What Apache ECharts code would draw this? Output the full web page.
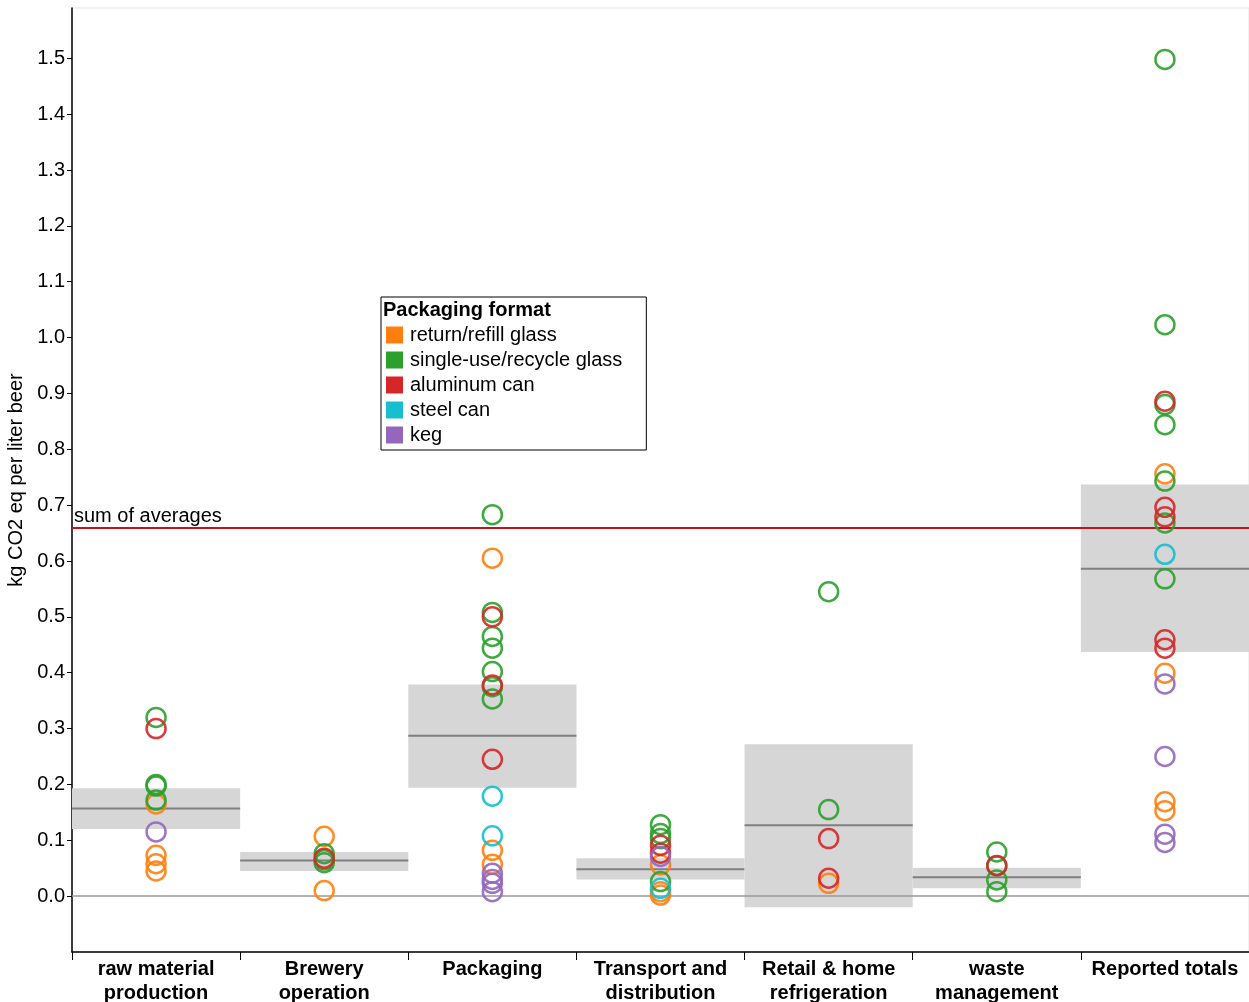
<!DOCTYPE html>
<html>
<head>
<meta charset="utf-8">
<script src="https://cdn.jsdelivr.net/npm/echarts@6/dist/echarts.min.js"></script>
<style>
html,body{margin:0;padding:0;background:#fff;}
#chart{width:1249px;height:1002px;}
</style>
</head>
<body>
<div id="chart"></div>
<script>
// Categories (x axis)
const categories = ['raw material\nproduction', 'Brewery\noperation', 'Packaging', 'Transport and\ndistribution', 'Retail & home\nrefrigeration', 'waste\nmanagement', 'Reported totals'];

// Y tick labels
const yTicks = [0, 0.1, 0.2, 0.3, 0.4, 0.5, 0.6, 0.7, 0.8, 0.9, 1.0, 1.1, 1.2, 1.3, 1.4, 1.5];

// Points: [category index, kg CO2 eq per liter]
const returnRefillGlass = [
  [0, 0.165], [0, 0.073], [0, 0.058], [0, 0.045],
  [1, 0.107], [1, 0.010],
  [2, 0.605], [2, 0.082], [2, 0.057],
  [3, 0.056], [3, 0.008], [3, 0.002],
  [4, 0.023],
  [6, 0.756], [6, 0.399], [6, 0.169], [6, 0.153]
];
const singleUseGlass = [
  [0, 0.320], [0, 0.200], [0, 0.197], [0, 0.172],
  [1, 0.076], [1, 0.065], [1, 0.060],
  [2, 0.683], [2, 0.508], [2, 0.465], [2, 0.444], [2, 0.402], [2, 0.375], [2, 0.353],
  [3, 0.128], [3, 0.112], [3, 0.103], [3, 0.026],
  [4, 0.545], [4, 0.155],
  [5, 0.079], [5, 0.054], [5, 0.029], [5, 0.008],
  [6, 1.498], [6, 1.023], [6, 0.880], [6, 0.844], [6, 0.743], [6, 0.668], [6, 0.568]
];
const aluminumCan = [
  [0, 0.300],
  [1, 0.068],
  [2, 0.500], [2, 0.378], [2, 0.245],
  [3, 0.091], [3, 0.077],
  [4, 0.103], [4, 0.032],
  [5, 0.055],
  [6, 0.886], [6, 0.696], [6, 0.679], [6, 0.459], [6, 0.444]
];
const steelCan = [
  [2, 0.179], [2, 0.108],
  [3, 0.014],
  [6, 0.612]
];
const keg = [
  [0, 0.115],
  [2, 0.041], [2, 0.030], [2, 0.023], [2, 0.008],
  [3, 0.071],
  [6, 0.380], [6, 0.250], [6, 0.111], [6, 0.096]
];

// Per-category average and shaded range
const rangeLow  = [0.120, 0.045, 0.194, 0.030, -0.020, 0.014, 0.437];
const rangeHigh = [0.193, 0.079, 0.379, 0.068, 0.272, 0.051, 0.737];
const averages  = [0.157, 0.064, 0.287, 0.048, 0.127, 0.034, 0.586];
const sumOfAverages = 0.658;

const formatNames = ['return/refill glass', 'single-use/recycle glass', 'aluminum can', 'steel can', 'keg'];
const formatColors = ['#ff7f0e', '#2ca02c', '#d62728', '#17becf', '#9467bd'];
const formatData = [returnRefillGlass, singleUseGlass, aluminumCan, steelCan, keg];

const FONT = '"Liberation Sans", Arial, Helvetica, sans-serif';

const boxData = categories.map((c, i) => [i, rangeLow[i], rangeHigh[i], averages[i]]);

const scatterSeries = formatNames.map((name, i) => ({
  name: name,
  type: 'scatter',
  z: 5,
  symbol: 'circle',
  symbolSize: 19,
  data: formatData[i],
  itemStyle: { color: 'rgba(0,0,0,0)', borderColor: formatColors[i], borderWidth: 2.5, opacity: 0.9 },
  emphasis: { disabled: true }
}));

const chart = echarts.init(document.getElementById('chart'), null, { renderer: 'canvas' });
chart.setOption({
  animation: false,
  backgroundColor: '#fff',
  textStyle: { fontFamily: FONT },
  title: {
    text: 'Packaging format',
    left: 383, top: 300, padding: 0,
    textStyle: { fontFamily: FONT, fontSize: 20, fontWeight: 'bold', color: '#000' }
  },
  legend: {
    orient: 'vertical',
    left: 381, top: 297,
    padding: [28, 24, 5, 5],
    itemGap: 5,
    itemWidth: 17, itemHeight: 17,
    borderColor: '#000', borderWidth: 1,
    selectedMode: false,
    icon: 'rect',
    textStyle: { fontFamily: FONT, fontSize: 20, color: '#000', padding: [0, 0, 0, 2] },
    data: formatNames.map((n, i) => ({ name: n, itemStyle: { color: formatColors[i], borderWidth: 0, opacity: 1 } }))
  },
  grid: { left: 72, right: 0, top: 8, bottom: 50, outerBoundsMode: 'none', containLabel: false, show: true, borderColor: '#e4e4e4', borderWidth: 1 },
  xAxis: {
    type: 'category',
    data: categories,
    boundaryGap: true,
    axisLine: { onZero: false, lineStyle: { color: '#000', width: 1.5 } },
    axisTick: { show: true, length: 8, lineStyle: { color: '#000', width: 1 } },
    axisLabel: { fontFamily: FONT, fontSize: 20, fontWeight: 'bold', color: '#000', lineHeight: 24, margin: 5, interval: 0 },
    splitLine: { show: false }
  },
  yAxis: {
    type: 'value',
    min: -0.1, max: 1.59, interval: 0.1,
    name: 'kg CO2 eq per liter beer',
    nameLocation: 'middle', nameGap: 43, nameRotate: 90,
    nameTextStyle: { fontFamily: FONT, fontSize: 20, color: '#000' },
    axisLine: { show: true, lineStyle: { color: '#000', width: 1.5 } },
    axisTick: { show: true, length: 5, customValues: yTicks, lineStyle: { color: '#000' } },
    axisLabel: { fontFamily: FONT, fontSize: 20, color: '#000', margin: 7, customValues: yTicks, formatter: v => v.toFixed(1) },
    splitLine: { show: false }
  },
  series: [
    {
      type: 'custom',
      name: 'ranges',
      z: 1,
      data: boxData,
      encode: { x: 0, y: [1, 2, 3] },
      renderItem: function (params, api) {
        const idx = api.value(0);
        const top = api.coord([idx, api.value(2)]);
        const bot = api.coord([idx, api.value(1)]);
        const mid = api.coord([idx, api.value(3)]);
        const w = api.size([1, 0])[0];
        return {
          type: 'group',
          children: [
            { type: 'rect', shape: { x: top[0] - w / 2, y: top[1], width: w, height: bot[1] - top[1] }, style: { fill: '#d6d6d6' } },
            { type: 'line', shape: { x1: top[0] - w / 2, y1: mid[1], x2: top[0] + w / 2, y2: mid[1] }, style: { stroke: '#7f7f7f', lineWidth: 2 } }
          ]
        };
      },
      markLine: {
        silent: true,
        symbol: ['none', 'none'],
        z: 3,
        data: [
          { yAxis: 0, lineStyle: { color: '#999', width: 1.5, type: 'solid' }, label: { show: false } },
          { yAxis: sumOfAverages, lineStyle: { color: '#c2121c', width: 2, type: 'solid' },
            label: { show: true, position: 'insideStartTop', formatter: 'sum of averages', fontFamily: FONT, fontSize: 20, color: '#000', distance: [2, 1] } }
        ]
      }
    }
  ].concat(scatterSeries)
});
</script>
</body>
</html>
